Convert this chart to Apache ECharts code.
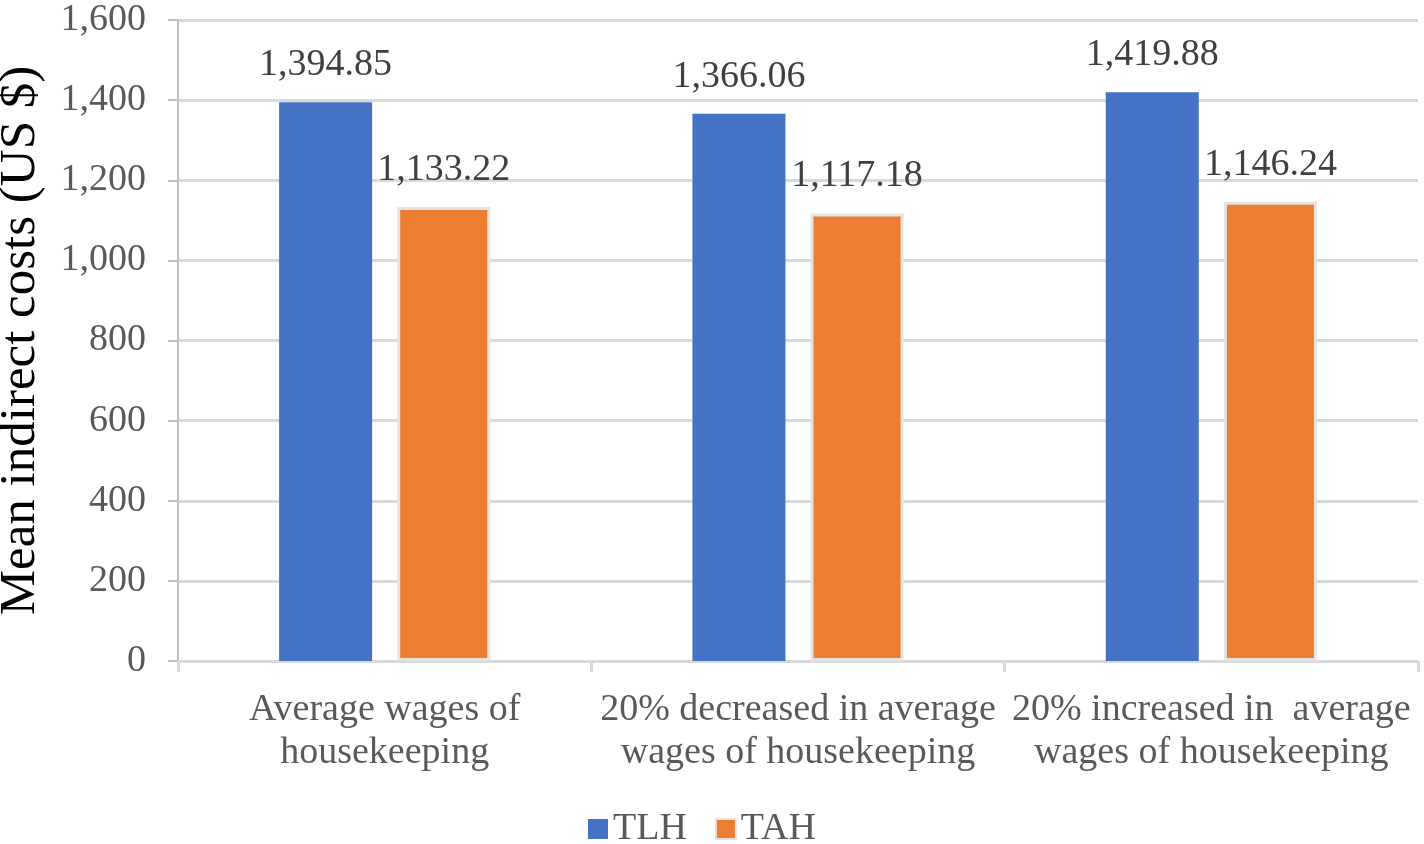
<!DOCTYPE html>
<html>
<head>
<meta charset="utf-8">
<script src="https://cdn.jsdelivr.net/npm/echarts@6/dist/echarts.min.js"></script>
<style>
    html, body { margin: 0; padding: 0; background: #fff; }
    #main { width: 1424px; height: 844px; }
</style>
</head>
<body>
<div id="main"></div>
<script>
var categories = [
    'Average wages of\nhousekeeping',
    '20% decreased in average\nwages of housekeeping',
    '20% increased in  average\nwages of housekeeping'
];
var tlhValues = [1394.85, 1366.06, 1419.88];
var tahValues = [1133.22, 1117.18, 1146.24];

var serif = '"Liberation Serif", "Times New Roman", serif';

function fmt(v) {
    return v.toLocaleString('en-US', { minimumFractionDigits: 2, maximumFractionDigits: 2 });
}

var chartDom = document.getElementById('main');
var myChart = echarts.init(chartDom);
var option;

option = {
    animation: false,
    textStyle: { fontFamily: serif },
    grid: {
        left: 178,
        right: 6,
        top: 20,
        bottom: 183,
        outerBoundsMode: 'none',
        containLabel: false
    },
    legend: {
        top: 810,
        left: 588,
        padding: 0,
        itemWidth: 20,
        itemHeight: 20,
        itemGap: 28,
        icon: 'rect',
        textStyle: { fontFamily: serif, fontSize: 38, color: '#595959' },
        data: ['TLH', 'TAH']
    },
    xAxis: {
        type: 'category',
        data: categories,
        axisLine: { lineStyle: { color: '#d9d9d9', width: 3 } },
        axisTick: { show: true, length: 11, lineStyle: { color: '#d9d9d9', width: 3 } },
        axisLabel: {
            fontFamily: serif,
            fontSize: 38,
            color: '#595959',
            lineHeight: 43,
            margin: 28,
            interval: 0
        }
    },
    yAxis: {
        type: 'value',
        min: 0,
        max: 1600,
        interval: 200,
        name: 'Mean indirect costs (US $)',
        nameLocation: 'middle',
        nameGap: 132,
        nameTextStyle: { fontFamily: serif, fontSize: 51, color: '#000' },
        axisLine: { show: true, lineStyle: { color: '#bfbfbf', width: 2 } },
        axisTick: { show: true, length: 10, lineStyle: { color: '#bfbfbf', width: 2 } },
        splitLine: { lineStyle: { color: '#d9d9d9', width: 3 } },
        axisLabel: {
            fontFamily: serif,
            fontSize: 38,
            color: '#595959',
            margin: 32,
            formatter: function (v) { return v.toLocaleString('en-US'); }
        }
    },
    series: [
        {
            name: 'TLH',
            type: 'bar',
            data: tlhValues,
            barWidth: 93,
            barGap: '27%',
            itemStyle: { color: '#4472C4' },
            label: {
                show: true,
                position: 'top',
                distance: 18,
                fontFamily: serif,
                fontSize: 38,
                color: '#404040',
                formatter: function (p) { return fmt(p.value); }
            }
        },
        {
            name: 'TAH',
            type: 'bar',
            data: tahValues,
            barWidth: 93,
            itemStyle: { color: '#ED7D31', borderColor: '#e3e3e3', borderWidth: 3 },
            label: {
                show: true,
                position: 'top',
                distance: 18,
                fontFamily: serif,
                fontSize: 38,
                color: '#404040',
                formatter: function (p) { return fmt(p.value); }
            }
        }
    ]
};

option && myChart.setOption(option);
</script>
</body>
</html>
